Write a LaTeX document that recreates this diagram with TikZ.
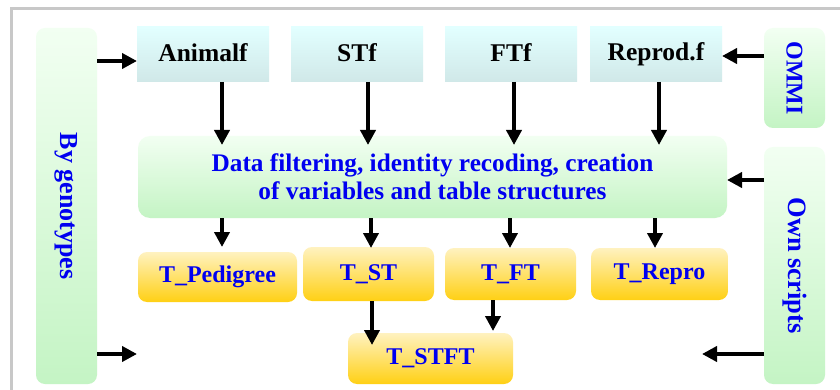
\documentclass[tikz,border=0pt]{standalone}
\usepackage{fontspec}
\setmainfont{Liberation Serif}
\usetikzlibrary{arrows.meta}
\definecolor{framegray}{RGB}{200,200,200}
\definecolor{cyantop}{RGB}{226,255,255}
\definecolor{cyanbot}{RGB}{208,232,232}
\definecolor{greentop}{RGB}{242,255,242}
\definecolor{greenbot}{RGB}{196,244,196}
\definecolor{orangetop}{RGB}{255,242,192}
\definecolor{orangebot}{RGB}{255,208,20}
\definecolor{txtblue}{RGB}{0,0,240}
\begin{document}
\begin{tikzpicture}[x=1pt,y=-1pt,
  every node/.style={inner sep=0pt, outer sep=0pt, font=\fontsize{24}{28}\selectfont\bfseries},
  filebox/.style={top color=cyantop, bottom color=cyanbot, minimum height=55pt, minimum width=132pt, text=black, font=\fontsize{25.5}{28}\selectfont\bfseries},
  sidebox/.style={top color=greentop, bottom color=greenbot, rounded corners=9pt, minimum width=61pt, text=txtblue},
  sidetext/.style={rotate=-90, text=txtblue, font=\fontsize{26}{28}\selectfont\bfseries},
  tablebox/.style={top color=orangetop, bottom color=orangebot, rounded corners=9pt, text=txtblue},
  arr/.style={line width=4.5pt, -{Triangle[length=15pt,width=15pt]}}
]
\useasboundingbox (0,0) rectangle (840,390);
\fill[white] (0,0) rectangle (840,390);
\draw[framegray, line width=3pt] (11.5,8.5) rectangle (870,420);

% side boxes
\node[sidebox, minimum height=356pt] (gen) at (66.5,206) {};
\node[sidetext] at (gen.center) {By genotypes};
\node[sidebox, minimum height=100pt] (ommi) at (794.5,78) {};
\node[sidetext, font=\fontsize{24}{28}\selectfont\bfseries] at (ommi.center) {OMMI};
\node[sidebox, minimum height=237pt] (own) at (794.5,265.5) {};
\node[sidetext, font=\fontsize{26.5}{28}\selectfont\bfseries] at (own.center) {Own scripts};

% file boxes
\node[filebox] (anim) at (203,54.5) {\raisebox{3pt}{Animalf}};
\node[filebox] (stf) at (357,54.5) {\raisebox{3pt}{STf}};
\node[filebox] (ftf) at (511,54.5) {\raisebox{3pt}{FTf}};
\node[filebox] (rep) at (656,54.5) {\raisebox{3pt}{Reprod.f}};

% data box
\node[top color=greentop, bottom color=greenbot, rounded corners=12pt,
      minimum width=589pt, minimum height=82pt, text=txtblue, align=center,
      font=\fontsize{25.3}{28}\selectfont\bfseries] (data) at (432.5,177)
  {Data filtering, identity recoding, creation\\of variables and table structures};

% table boxes
\node[tablebox, minimum width=159pt, minimum height=50pt] (tped) at (217.5,277) {T\_Pedigree};
\node[tablebox, minimum width=131pt, minimum height=54pt] (tst) at (368.5,274) {\raisebox{3pt}{T\_ST}};
\node[tablebox, minimum width=131pt, minimum height=52pt] (tft) at (510.5,274) {\raisebox{3pt}{T\_FT}};
\node[tablebox, minimum width=137pt, minimum height=52pt] (trep) at (659.5,274) {\raisebox{2pt}{T\_Repro}};
\node[tablebox, minimum width=165pt, minimum height=51pt] (tstft) at (430.5,358.5) {T\_STFT};

% free ends
\coordinate (gl) at (137,354);
\coordinate (orr) at (702,354);

% horizontal arrows
\draw[arr] (gen.east |- 0,61) -- (anim.west |- 0,61);
\draw[arr] (ommi.west |- 0,56) -- (rep.east |- 0,56);
\draw[arr] (own.west |- 0,180) -- (data.east |- 0,180);
\draw[arr] (gen.east |- gl) -- (gl);
\draw[arr] (own.west |- orr) -- (orr);

% top to data
\draw[arr, shorten >=-9pt] (anim.south -| 222,0) -- (data.north -| 222,0);
\draw[arr, shorten >=-9pt] (stf.south -| 368,0) -- (data.north -| 368,0);
\draw[arr, shorten >=-9pt] (ftf.south -| 514,0) -- (data.north -| 514,0);
\draw[arr, shorten >=-9pt] (rep.south -| 659,0) -- (data.north -| 659,0);

% data to tables
\draw[arr, shorten >=5pt] (data.south -| 222,0) -- (tped.north -| 222,0);
\draw[arr, shorten >=-1pt] (data.south -| 371,0) -- (tst.north -| 371,0);
\draw[arr] (data.south -| 510,0) -- (tft.north -| 510,0);
\draw[arr] (data.south -| 655,0) -- (trep.north -| 655,0);

% tables to tstft
\draw[arr, shorten >=-12pt] (tst.south -| 372,0) -- (tstft.north -| 372,0);
\draw[arr, shorten >=2pt] (tft.south -| 493,0) -- (tstft.north -| 493,0);
\end{tikzpicture}
\end{document}
